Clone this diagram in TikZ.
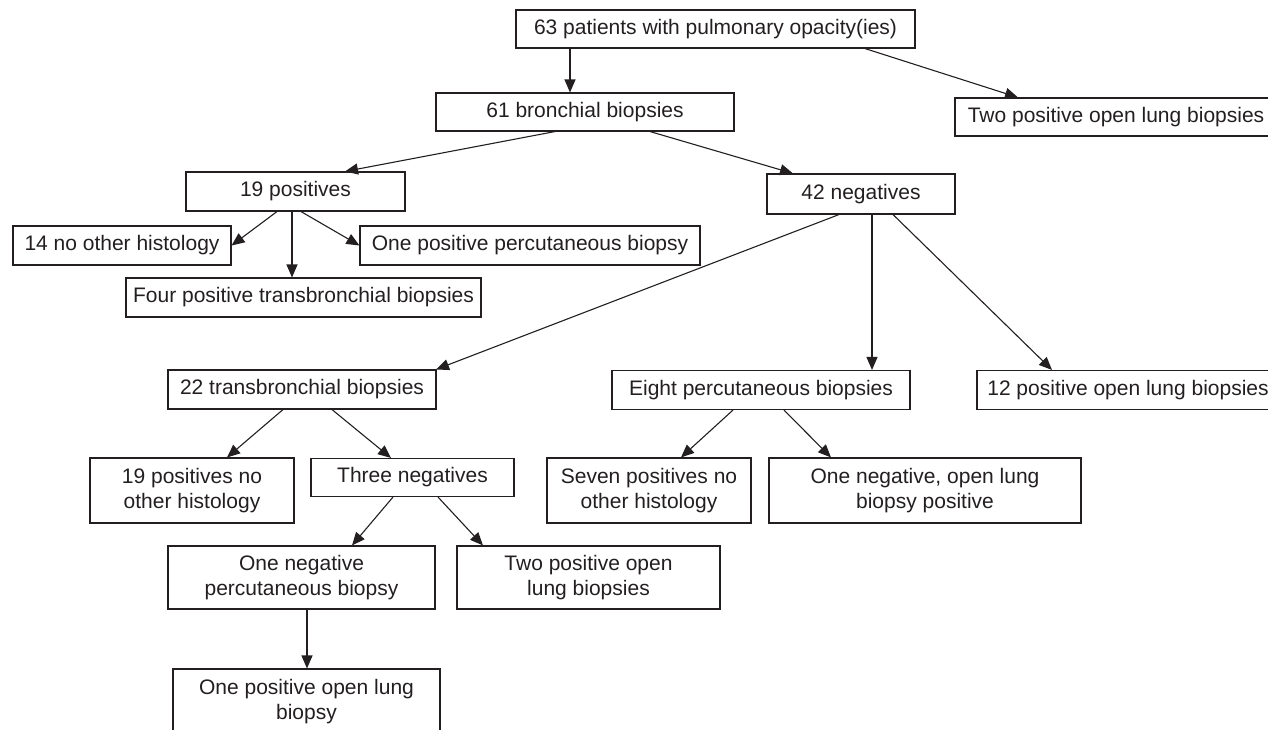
\documentclass[tikz,border=0pt]{standalone}
\usepackage{fontspec}
\setmainfont{Liberation Sans}
\usetikzlibrary{arrows.meta}
\definecolor{ink}{HTML}{231F20}
\begin{document}
\begin{tikzpicture}[x=1pt,y=-1pt,
  box/.style={draw=ink, line width=1.1pt, text=ink, inner sep=0pt, align=center,
    font=\fontsize{21}{25}\selectfont, minimum height=39pt},
  arr/.style={draw=ink, line width=1.1pt, -{Triangle[length=13pt,width=11pt]}}]
\useasboundingbox (0,0) rectangle (1268,729);
\node[box, minimum width=399pt, minimum height=38pt] (n63) at (715.5,29) {63 patients with pulmonary opacity(ies)};
\node[box, minimum width=298pt, minimum height=38pt] (n61) at (585,112) {61 bronchial biopsies};
\node[box, minimum width=322pt, minimum height=38pt] (ntop) at (1116,117) {Two positive open lung biopsies};
\node[box, minimum width=219pt] (n19) at (295.5,191.5) {19 positives};
\node[box, minimum width=188pt, minimum height=40pt] (n42) at (861,194) {42 negatives};
\node[box, minimum width=218pt] (n14) at (122,245.5) {14 no other histology};
\node[box, minimum width=340pt] (nperc1) at (530,245.5) {One positive percutaneous biopsy};
\node[box, minimum width=355pt] (nfour) at (303.5,297.5) {Four positive transbronchial biopsies};
\node[box, minimum width=268pt] (n22) at (302,389.5) {22 transbronchial biopsies};
\node[box, minimum width=298pt] (neight) at (761,390) {Eight percutaneous biopsies};
\node[box, minimum width=302pt] (n12) at (1128,390) {12 positive open lung biopsies};
\node[box, minimum width=204pt, minimum height=65pt] (n19b) at (192,490.5) {19 positives no\\other histology};
\node[box, minimum width=203pt, minimum height=38pt] (nthree) at (412.5,477.5) {Three negatives};
\node[box, minimum width=204pt, minimum height=65pt] (nseven) at (649,490.5) {Seven positives no\\other histology};
\node[box, minimum width=312pt, minimum height=65pt] (nonenegol) at (925,490.5) {One negative, open lung\\biopsy positive};
\node[box, minimum width=267pt, minimum height=63pt] (nonenegperc) at (301.5,577.5) {One negative\\percutaneous biopsy};
\node[box, minimum width=263pt, minimum height=63pt] (ntwopos) at (588.5,577.5) {Two positive open\\lung biopsies};
\node[box, minimum width=267pt, minimum height=65pt] (nlast) at (306.5,701.5) {One positive open lung\\biopsy};
\draw[arr] ([xshift=-145.5pt]n63.south) -- ([xshift=-15pt]n61.north);
\draw[arr] ([xshift=149.5pt]n63.south) -- ([xshift=-98pt]ntop.north);
\draw[arr] ([xshift=-30pt]n61.south) -- ([xshift=49.5pt]n19.north);
\draw[arr] ([xshift=65pt]n61.south) -- ([xshift=-68pt]n42.north);
\draw[arr] ([xshift=-18.5pt]n19.south) -- (n14.east);
\draw[arr] ([xshift=-3.5pt]n19.south) -- ([xshift=-11.5pt]nfour.north);
\draw[arr] ([xshift=5.5pt]n19.south) -- (nperc1.west);
\draw[arr] ([xshift=-22pt]n42.south) -- ([xshift=134pt]n22.north);
\draw[arr] ([xshift=11pt]n42.south) -- ([xshift=111pt]neight.north);
\draw[arr] ([xshift=32pt]n42.south) -- ([xshift=-76pt]n12.north);
\draw[arr] ([xshift=-19pt]n22.south) -- ([xshift=35pt]n19b.north);
\draw[arr] ([xshift=30pt]n22.south) -- ([xshift=-21.5pt]nthree.north);
\draw[arr] ([xshift=-28pt]neight.south) -- ([xshift=32pt]nseven.north);
\draw[arr] ([xshift=23pt]neight.south) -- ([xshift=-94pt]nonenegol.north);
\draw[arr] ([xshift=-19.5pt]nthree.south) -- ([xshift=50.5pt]nonenegperc.north);
\draw[arr] ([xshift=25.5pt]nthree.south) -- ([xshift=-105.5pt]ntwopos.north);
\draw[arr] ([xshift=5.5pt]nonenegperc.south) -- ([xshift=0.5pt]nlast.north);
\end{tikzpicture}
\end{document}
